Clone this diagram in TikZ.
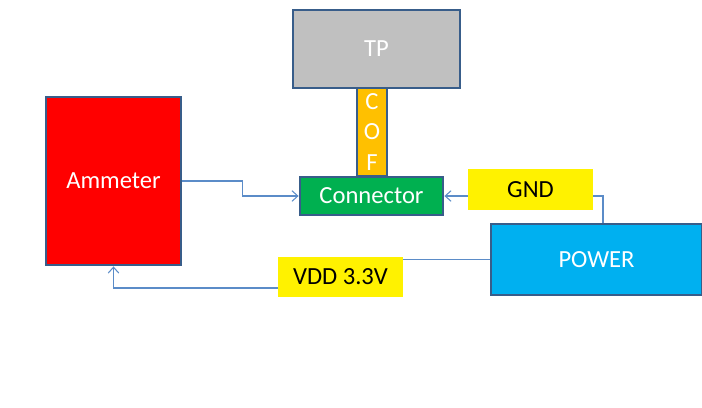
\documentclass[tikz,border=0pt]{standalone}
\usepackage{fontspec}
\setmainfont{Carlito}
\usetikzlibrary{arrows.meta}

\definecolor{edgeblue}{HTML}{385D8A}
\definecolor{wireblue}{HTML}{5B8CC8}
\definecolor{tpgray}{HTML}{C0C0C0}
\definecolor{coforange}{HTML}{FFC000}
\definecolor{conngreen}{HTML}{00B050}
\definecolor{powerblue}{HTML}{00B0F0}

\tikzset{
    blockbox/.style={draw=edgeblue, line width=2.4pt, inner sep=0pt, text=white,
        font=\fontsize{21}{25}\selectfont},
    labelbox/.style={fill=yellow, inner sep=0pt, text=black,
        font=\fontsize{21}{25}\selectfont},
    wire/.style={draw=wireblue, line width=0.9pt},
    wirearrow/.style={wire, -{Straight Barb[length=5pt,width=9pt]}}
}

\begin{document}
\begin{tikzpicture}[x=0.03cm, y=-0.03cm]
    \useasboundingbox (0,0) rectangle (702,407);

    % --- Blocks ---
    \node[blockbox, fill=tpgray, minimum width=167*0.03cm, minimum height=78*0.03cm] (tp) at (376.5,49) {\raisebox{-3pt}{TP}};
    \node[blockbox, fill=coforange, minimum width=30*0.03cm, minimum height=88*0.03cm, align=center,
        font=\fontsize{21}{26}\selectfont] (cof) at (372,132) {C\\O\\F};
    \node[blockbox, fill=conngreen, minimum width=143*0.03cm, minimum height=38*0.03cm] (conn) at (371.5,196) {Connector};
    \node[blockbox, fill=red, minimum width=135*0.03cm, minimum height=168*0.03cm] (amm) at (113.5,181) {Ammeter};
    \node[blockbox, fill=powerblue, minimum width=211*0.03cm, minimum height=71*0.03cm] (power) at (596.5,259.5) {POWER};

    % Turn points of the wires
    \coordinate (gndturn) at (603,196);
    \coordinate (vddlow) at (340,288);

    % --- Wires ---
    \draw[wirearrow] (amm.east) -- ++(60,0) |- (conn.west);
    \draw[wirearrow] (power.north -| gndturn) -- (gndturn) -- (conn.east);
    \draw[wirearrow] (power.west) -| (vddlow) -| (amm.south);

    % Labels on the wires
    \node[labelbox, minimum width=125*0.03cm, minimum height=41*0.03cm] (gnd) at (530.5,189.5) {GND};
    \node[labelbox, minimum width=125*0.03cm, minimum height=40*0.03cm] (vdd) at (340.5,277) {VDD 3.3V};
\end{tikzpicture}
\end{document}
